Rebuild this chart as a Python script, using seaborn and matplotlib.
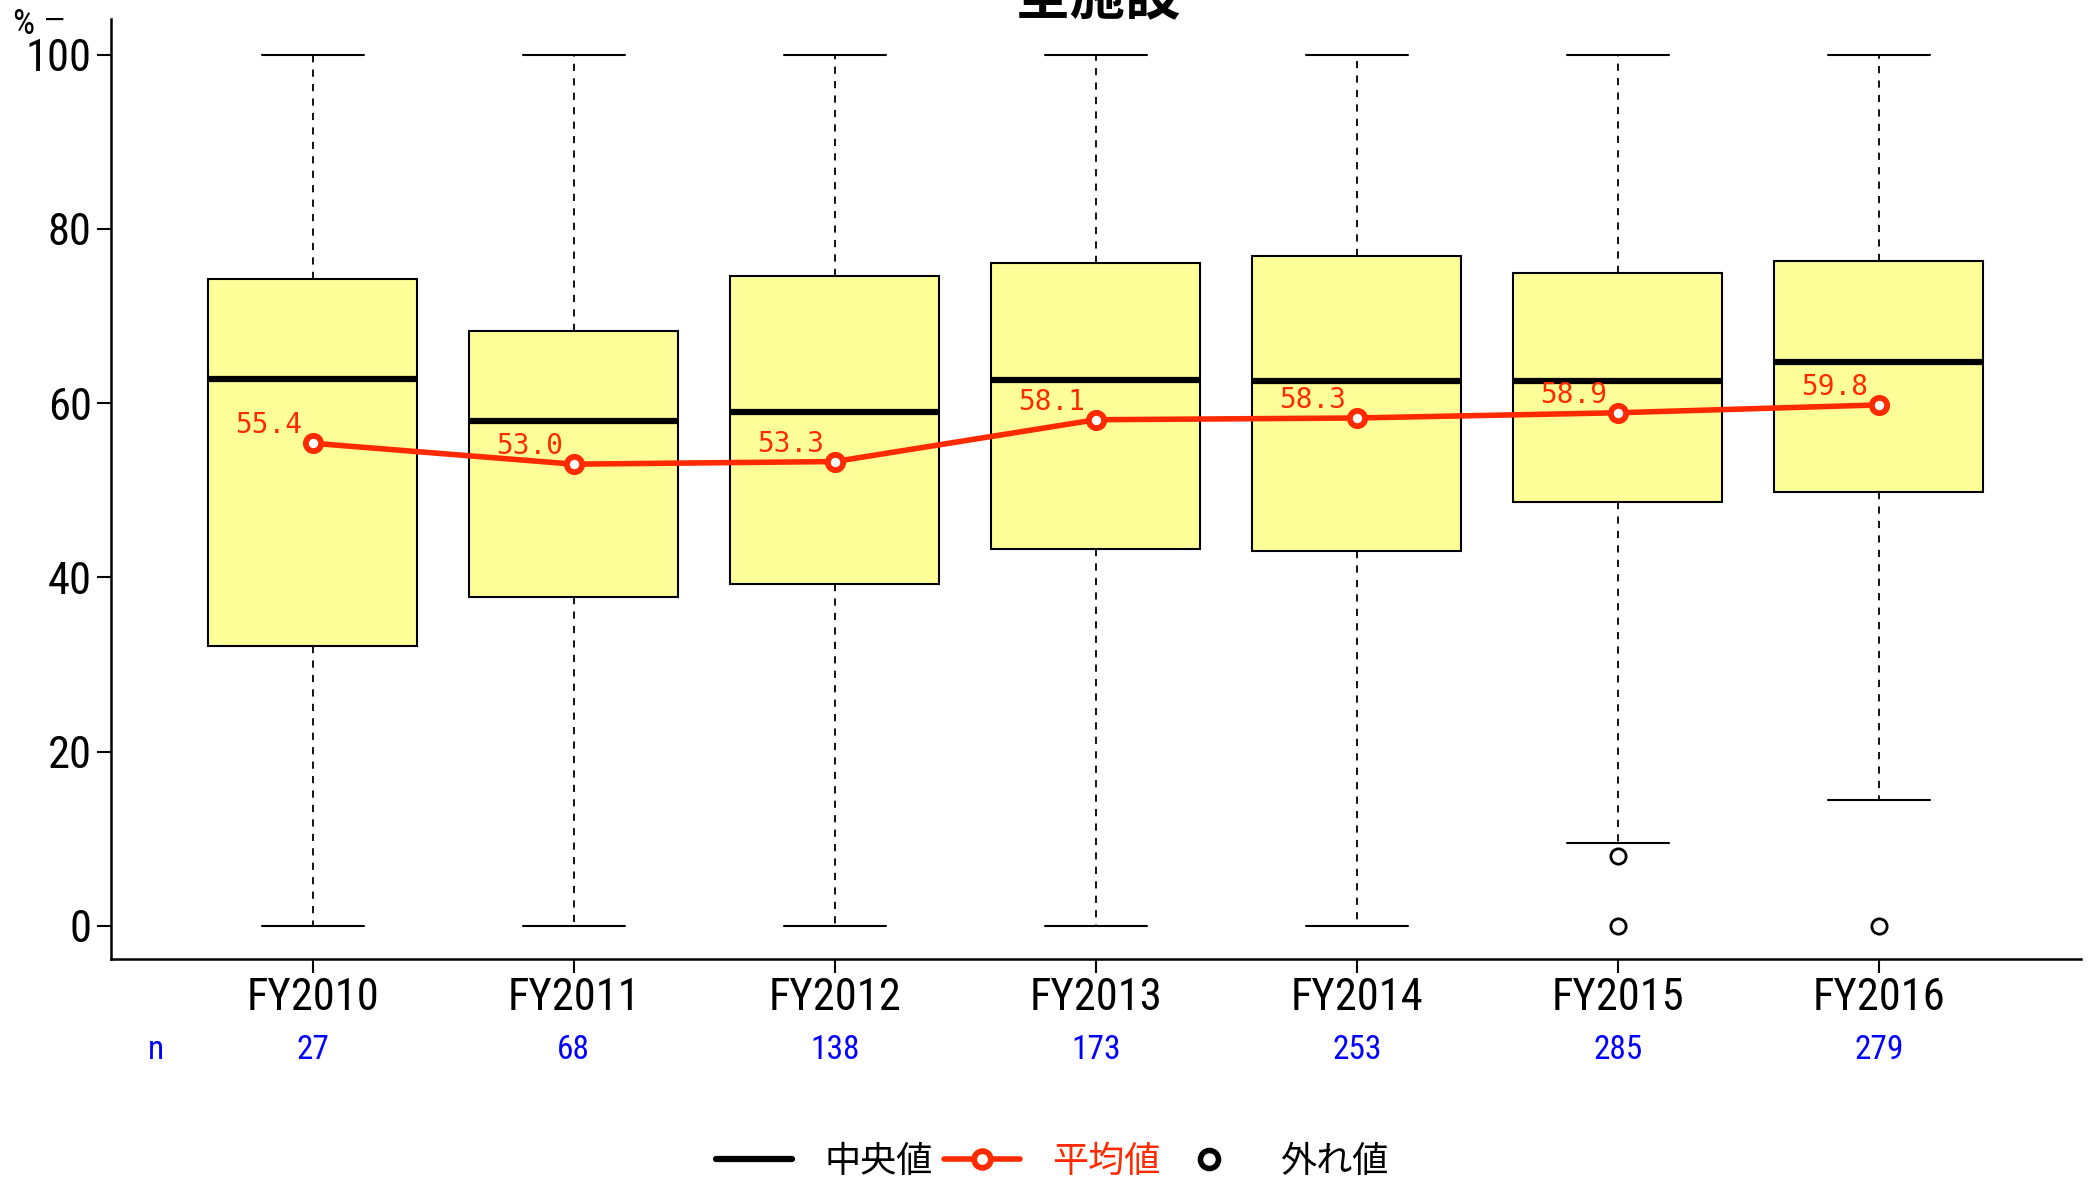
import matplotlib
matplotlib.use("Agg")
import matplotlib.pyplot as plt
from matplotlib import font_manager
from matplotlib.lines import Line2D
import seaborn as sns
import pandas as pd

# values
years = ["FY2010", "FY2011", "FY2012", "FY2013", "FY2014", "FY2015", "FY2016"]
n_counts = [27, 68, 138, 173, 253, 285, 279]
q1 = [32.1, 37.8, 39.3, 43.3, 43.0, 48.6, 49.8]
q3 = [74.2, 68.3, 74.6, 76.1, 76.9, 74.9, 76.3]
medians = [62.8, 58.0, 59.0, 62.7, 62.5, 62.5, 64.7]
whisk_lo = [0, 0, 0, 0, 0, 9.5, 14.4]
whisk_hi = [100, 100, 100, 100, 100, 100, 100]
means = [55.4, 53.0, 53.3, 58.1, 58.3, 58.9, 59.8]
outliers = [[], [], [], [], [], [8.0, 0.0], [0.0]]

sns.set_style("ticks")
installed = {f.name for f in font_manager.fontManager.ttflist}
narrow = [n for n in ['Liberation Sans Narrow', 'Roboto Condensed', 'Open Sans Condensed',
                      'Arial Narrow'] if n in installed]
plt.rcParams['font.family'] = narrow + ['Liberation Sans', 'Noto Sans CJK JP', 'DejaVu Sans']
for k in ['text.color', 'xtick.color', 'ytick.color', 'axes.labelcolor', 'axes.edgecolor']:
    plt.rcParams[k] = 'black'
cjk = ['Noto Sans CJK JP', 'DejaVu Sans']
red = "#FF2A00"

fig = plt.figure(figsize=(20.89, 11.80), dpi=100)
ax = fig.add_axes([0.0529, 0.1873, 0.9433, 0.7966])

pos = list(range(len(years)))
stats = []
for i, y in enumerate(years):
    stats.append({'label': y, 'q1': q1[i], 'q3': q3[i], 'med': medians[i],
                  'whislo': whisk_lo[i], 'whishi': whisk_hi[i], 'fliers': outliers[i]})

ax.bxp(stats, positions=pos, widths=0.8, patch_artist=True, showfliers=True,
       boxprops=dict(facecolor="#FFFF99", edgecolor="black", linewidth=1.5),
       medianprops=dict(color="black", linewidth=4.5),
       whiskerprops=dict(color="black", linewidth=1.3, linestyle=(0, (4, 4))),
       capprops=dict(color="black", linewidth=1.5),
       capwidths=0.39,
       flierprops=dict(marker='o', markerfacecolor='white', markeredgecolor='black',
                       markersize=11, markeredgewidth=2))

df = pd.DataFrame({'pos': pos, 'mean': means})
sns.lineplot(data=df, x='pos', y='mean', ax=ax, color=red, linewidth=4, marker='o',
             markersize=11, markerfacecolor='white', markeredgecolor=red, markeredgewidth=4.2, zorder=5)

for p, m in zip(pos, means):
    ax.annotate(f"{m:.1f}", (p, m), xytext=(-44, 18), textcoords='offset pixels',
                ha='center', va='center', color=red, fontsize=20, family='DejaVu Sans Mono', zorder=6)

ax.set_xlim(-0.775, 6.775)
ax.set_ylim(-3.8, 104.1)
ax.set_yticks([0, 20, 40, 60, 80, 100])
ax.set_xticks(pos)
ax.set_xticklabels(years)
ax.tick_params(axis='both', labelsize=32, length=10, width=1.5, color='black', labelcolor='black')
ax.tick_params(axis='x', pad=3)
for s in ['top', 'right']:
    ax.spines[s].set_visible(False)
for s in ['left', 'bottom']:
    ax.spines[s].set_linewidth(1.8)
ax.set_xlabel('')
ax.set_ylabel('')

# n counts row
trans = ax.get_xaxis_transform()
ax.text(-0.6, -0.097, "n", transform=trans, ha='center', va='center', color='blue', fontsize=24)
for p, n in zip(pos, n_counts):
    ax.text(p, -0.097, str(n), transform=trans, ha='center', va='center', color='blue', fontsize=24)

fig.text(23 / 2089, 1 - 24 / 1180, "%", ha='center', va='center', fontsize=25)
fig.text(55 / 2089, 1 - 20 / 1180, "−", ha='center', va='center', fontsize=20,
         family=['DejaVu Sans'])

fig.text(0.5256, 1 - 14 / 1180, "全施設", ha='center', va='baseline', fontsize=40,
         fontweight='bold', family=cjk)

handles = [Line2D([], [], color='black', linewidth=4.5),
           Line2D([], [], color=red, linewidth=4, marker='o', markersize=12,
                  markerfacecolor='white', markeredgecolor=red, markeredgewidth=4.2),
           Line2D([], [], linestyle='none', marker='o', markersize=13,
                  markerfacecolor='white', markeredgecolor='black', markeredgewidth=4)]
leg = fig.legend(handles, ["中央値", "平均値", "外れ値"], loc='center', ncol=3,
                 bbox_to_anchor=(0.5037, 1 - 1162 / 1180), frameon=False,
                 prop={'family': cjk, 'size': 26}, handlelength=2.1, handletextpad=0.9,
                 columnspacing=0.3)
leg.get_texts()[1].set_color(red)

fig.savefig("out.png", dpi=100)
